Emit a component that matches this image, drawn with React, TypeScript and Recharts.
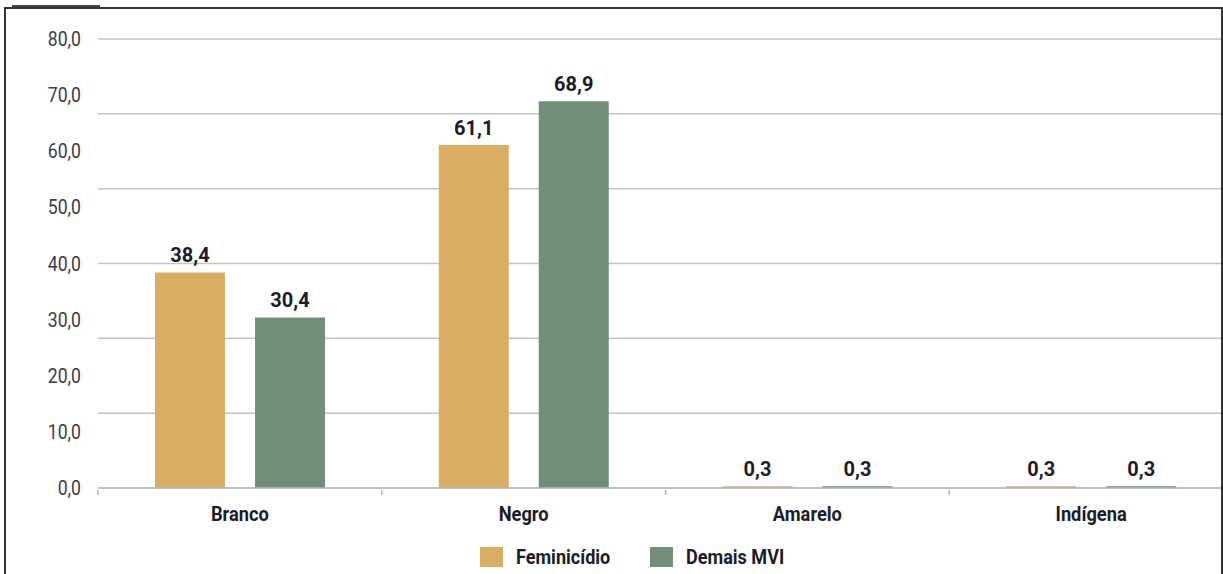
import { Bar, BarChart, CartesianGrid, LabelList, XAxis, YAxis } from 'recharts';

const categories = ['Branco', 'Negro', 'Amarelo', 'Indígena'];
const feminicidio = [38.4, 61.1, 0.3, 0.3];
const demaisMvi = [30.4, 68.9, 0.3, 0.3];
const yTicks = [0, 10, 20, 30, 40, 50, 60, 70, 80];
const gridValues = [0, 80 / 6, 160 / 6, 40, 320 / 6, 400 / 6, 80];

const seriesNames = ['Feminicídio', 'Demais MVI'];
const seriesColors = ['#d9ae63', '#728f78'];

const data = categories.map((name, i) => ({
  name,
  feminicidio: feminicidio[i],
  demais: demaisMvi[i],
}));

const FONT = 'Roboto, sans-serif';
const TEXT = '#1c1c28';
const fmt = (v: number) => v.toFixed(1).replace('.', ',');

const CHART_W = 1240;
const MARGIN = { top: 39, right: 7, left: 0, bottom: 46 };
const Y_W = 98;
const BAND = (CHART_W - MARGIN.left - MARGIN.right - Y_W) / categories.length;

// narrow text: the source uses a condensed face, so squeeze Roboto sideways
function NarrowText({ x, y, anchor, sx, size, weight, fill, children }: any) {
  return (
    <text
      transform={`translate(${x},${y}) scale(${sx},1)`}
      textAnchor={anchor}
      fontFamily={FONT}
      fontWeight={weight}
      fontSize={size}
      fill={fill}
    >
      {children}
    </text>
  );
}

function CategoryTick(props: any) {
  const { x, y, payload } = props;
  const edge = x - BAND / 2;
  return (
    <g>
      <line x1={edge} y1={y} x2={edge} y2={y + 5} stroke="#b8b8b8" strokeWidth={1.5} />
      <NarrowText x={x} y={y + 31} anchor="middle" sx={0.87} size={21} weight="bold" fill={TEXT}>
        {payload.value}
      </NarrowText>
    </g>
  );
}

function ValueTick(props: any) {
  const { x, y, payload } = props;
  return (
    <NarrowText x={x} y={y + 7} anchor="end" sx={0.86} size={20.5} weight="normal" fill="#3a3a48">
      {fmt(payload.value)}
    </NarrowText>
  );
}

const labelStyle = { fontFamily: FONT, fontSize: 20, fontWeight: 'bold', fill: TEXT };

export default function App() {
  return (
    <div
      style={{
        position: 'fixed',
        left: 0,
        top: 0,
        width: 1223,
        height: 574,
        overflow: 'hidden',
        background: '#fff',
      }}
    >
      <BarChart
        width={CHART_W}
        height={574}
        data={data}
        margin={MARGIN}
        barSize={70}
        barGap={30}
      >
        <CartesianGrid
          vertical={false}
          horizontalValues={gridValues}
          stroke="#c4c4c4"
          strokeWidth={1.5}
        />
        <XAxis
          dataKey="name"
          height={40}
          tickLine={false}
          tickSize={0}
          axisLine={{ stroke: '#b8b8b8', strokeWidth: 1.5 }}
          tick={<CategoryTick />}
          interval={0}
        />
        <YAxis
          width={Y_W}
          domain={[0, 80]}
          ticks={yTicks}
          axisLine={false}
          tickLine={false}
          tickSize={0}
          tickMargin={17}
          tick={<ValueTick />}
        />
        <Bar dataKey="feminicidio" fill={seriesColors[0]} isAnimationActive={false}>
          <LabelList
            dataKey="feminicidio"
            position="top"
            offset={10}
            formatter={(v: any) => fmt(Number(v))}
            style={labelStyle}
          />
        </Bar>
        <Bar dataKey="demais" fill={seriesColors[1]} isAnimationActive={false}>
          <LabelList
            dataKey="demais"
            position="top"
            offset={10}
            formatter={(v: any) => fmt(Number(v))}
            style={labelStyle}
          />
        </Bar>
      </BarChart>

      {/* legend */}
      <div
        style={{
          position: 'absolute',
          left: 480,
          top: 545,
          display: 'flex',
          alignItems: 'center',
          fontFamily: FONT,
          fontWeight: 'bold',
          fontSize: 21,
          color: TEXT,
        }}
      >
        {seriesNames.map((n, i) => (
          <div key={n} style={{ display: 'flex', alignItems: 'center', width: i === 0 ? 170 : 180 }}>
            <div style={{ width: 23, height: 20, background: seriesColors[i], marginRight: 13, flexShrink: 0 }} />
            <span style={{ display: 'inline-block', transform: 'scaleX(0.86)', transformOrigin: 'left center', whiteSpace: 'nowrap' }}>
              {n}
            </span>
          </div>
        ))}
      </div>

      {/* frame */}
      <div
        style={{
          position: 'absolute',
          left: 4,
          top: 7,
          width: 1215,
          height: 600,
          border: '2px solid #333',
          pointerEvents: 'none',
        }}
      />
      <div style={{ position: 'absolute', left: 12, top: 5, width: 88, height: 2, background: '#444' }} />
    </div>
  );
}
